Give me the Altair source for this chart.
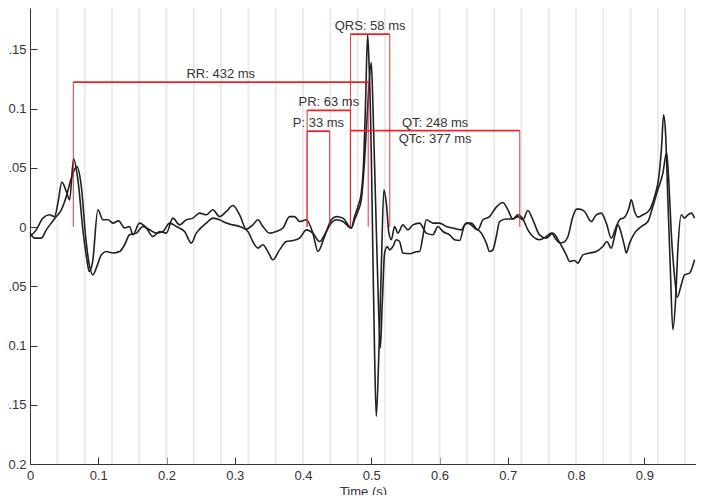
import altair as alt
import pandas as pd

# ---- trace 1 (taller beats) ----
t1_time = [0.000, 0.0092, 0.0189, 0.0287, 0.0360, 0.0409, 0.0467, 0.0532, 0.0580, 0.0639,
           0.0702, 0.0775, 0.0834, 0.0866, 0.0917, 0.0995, 0.1068, 0.1141, 0.1215, 0.1298,
           0.1386, 0.1459, 0.1507, 0.1605, 0.1704, 0.1800, 0.1899, 0.1997, 0.2093, 0.2192,
           0.2290, 0.2386, 0.2485, 0.2583, 0.2679, 0.2778, 0.2876, 0.2972, 0.3071, 0.3169,
           0.3265, 0.3339, 0.3412, 0.3510, 0.3608, 0.3705, 0.3803, 0.3876, 0.3950, 0.4048,
           0.4144, 0.4218, 0.4316, 0.4414, 0.4487, 0.4584, 0.4707, 0.4755, 0.4804, 0.4853,
           0.4887, 0.4916, 0.4946, 0.4965, 0.5000, 0.5023, 0.5048, 0.5073, 0.5111, 0.5146,
           0.5184, 0.5220, 0.5258, 0.5293, 0.5341, 0.5390, 0.5463, 0.5536, 0.5609, 0.5707,
           0.5806, 0.5902, 0.5976, 0.6049, 0.6147, 0.6220, 0.6294, 0.6367, 0.6415, 0.6513,
           0.6612, 0.6685, 0.6733, 0.6781, 0.6831, 0.6880, 0.6978, 0.7074, 0.7148, 0.7221,
           0.7294, 0.7367, 0.7465, 0.7564, 0.7637, 0.7710, 0.7759, 0.7808, 0.7881, 0.7953,
           0.8008, 0.8052, 0.8125, 0.8223, 0.8296, 0.8369, 0.8443, 0.8516, 0.8589, 0.8637,
           0.8711, 0.8774, 0.8809, 0.8857, 0.8906, 0.8979, 0.9077, 0.9150, 0.9213, 0.9253,
           0.9282, 0.9311, 0.9345, 0.9380, 0.9418, 0.9458, 0.9491, 0.9541, 0.9590, 0.9638,
           0.9688, 0.9736]
t1_amp = [-0.0079, -0.0023, 0.0076, 0.0104, 0.0089, 0.0205, 0.0380, 0.0300, 0.0230, 0.0576,
          0.0399, -0.0023, -0.0276, -0.0375, -0.0293, 0.0146, 0.0062, 0.0062, 0.0034, 0.0053,
          -0.0006, 0.0005, -0.0065, 0.0034, -0.0006, -0.0079, -0.0037, -0.0051, 0.0076, 0.0019,
          0.0062, 0.0076, 0.0118, 0.0104, 0.0146, 0.0089, 0.0132, 0.0182, 0.0104, -0.0017,
          0.0019, 0.0062, 0.0005, -0.0051, -0.0037, -0.0008, 0.0089, 0.0089, 0.0047, 0.0062,
          -0.0051, -0.0206, -0.0079, 0.0062, 0.0089, 0.0076, -0.0008, 0.0089, 0.0174, 0.0287,
          0.0540, 0.1049, 0.1623, 0.1412, 0.0624, -0.0219, -0.1061, -0.1598, -0.1063, -0.0360,
          0.0315, 0.0203, -0.0051, -0.0107, 0.0005, -0.0051, 0.0019, -0.0023, 0.0019, 0.0034,
          -0.0051, -0.0065, 0.0005, -0.0037, -0.0065, -0.0107, -0.0113, 0.0019, 0.0034, -0.0008,
          -0.0051, -0.0135, -0.0206, -0.0192, -0.0079, 0.0047, 0.0068, 0.0068, 0.0104, 0.0068,
          -0.0023, -0.0079, -0.0107, -0.0079, -0.0051, -0.0107, -0.0132, -0.0130, -0.0079, 0.0089,
          0.0152, 0.0152, 0.0132, 0.0047, 0.0104, 0.0118, 0.0034, -0.0093, 0.0005, 0.0062,
          0.0084, 0.0160, 0.0230, 0.0132, 0.0084, 0.0104, 0.0146, 0.0258, 0.0427, 0.0680,
          0.0948, 0.0793, 0.0230, -0.0332, -0.0867, -0.0613, -0.0192, 0.0104, 0.0076, 0.0104,
          0.0118, 0.0076]

# ---- trace 2 (smaller beats) ----
t2_time = [0.000, 0.0067, 0.0166, 0.0239, 0.0312, 0.0385, 0.0459, 0.0532, 0.0605, 0.0687,
           0.0752, 0.0815, 0.0873, 0.0921, 0.0980, 0.1045, 0.1118, 0.1214, 0.1313, 0.1386,
           0.1459, 0.1557, 0.1654, 0.1752, 0.1849, 0.1947, 0.2045, 0.2143, 0.2265, 0.2363,
           0.2436, 0.2485, 0.2583, 0.2679, 0.2778, 0.2876, 0.2972, 0.3071, 0.3192, 0.3265,
           0.3339, 0.3412, 0.3485, 0.3558, 0.3656, 0.3755, 0.3851, 0.3950, 0.4048, 0.4144,
           0.4243, 0.4341, 0.4414, 0.4487, 0.4584, 0.4707, 0.4755, 0.4804, 0.4853, 0.4902,
           0.4950, 0.5000, 0.5023, 0.5063, 0.5097, 0.5132, 0.5161, 0.5195, 0.5234, 0.5268,
           0.5316, 0.5366, 0.5414, 0.5463, 0.5561, 0.5659, 0.5707, 0.5756, 0.5806, 0.5902,
           0.6000, 0.6099, 0.6195, 0.6318, 0.6391, 0.6465, 0.6561, 0.6635, 0.6733, 0.6831,
           0.6928, 0.7001, 0.7074, 0.7148, 0.7221, 0.7294, 0.7367, 0.7465, 0.7564, 0.7660,
           0.7759, 0.7856, 0.7905, 0.7978, 0.8026, 0.8100, 0.8198, 0.8296, 0.8392, 0.8451,
           0.8516, 0.8564, 0.8613, 0.8662, 0.8711, 0.8735, 0.8784, 0.8857, 0.8955, 0.9052,
           0.9125, 0.9198, 0.9272, 0.9326, 0.9360, 0.9395, 0.9443, 0.9483, 0.9541, 0.9590,
           0.9663, 0.9736]
t2_amp = [-0.0046, -0.0093, -0.0093, -0.0023, 0.0034, 0.0089, 0.0146, 0.0258, 0.0413, 0.0511,
          0.0343, -0.0079, -0.0332, -0.0403, -0.0332, -0.0234, -0.0206, -0.0219, -0.0206, -0.0149,
          -0.0065, -0.0051, 0.0005, -0.0023, -0.0051, -0.0037, 0.0034, 0.0005, -0.0037, -0.0135,
          -0.0051, -0.0017, 0.0034, 0.0076, 0.0062, 0.0034, 0.0019, 0.0005, -0.0037, -0.0122,
          -0.0177, -0.0149, -0.0206, -0.0276, -0.0192, -0.0122, -0.0113, -0.0093, -0.0023, -0.0051,
          -0.0122, -0.0037, 0.0034, 0.0062, 0.0047, -0.0008, 0.0062, 0.0132, 0.0230, 0.0568,
          0.1046, 0.1389, 0.1046, 0.0203, -0.0501, -0.1021, -0.0641, -0.0219, -0.0164, -0.0192,
          -0.0164, -0.0107, -0.0122, -0.0219, -0.0225, -0.0208, -0.0206, -0.0079, 0.0062, 0.0034,
          0.0034, 0.0005, -0.0008, -0.0023, 0.0034, 0.0034, -0.0023, 0.0062, 0.0089, 0.0169,
          0.0208, 0.0146, 0.0068, 0.0089, 0.0062, 0.0140, 0.0062, -0.0065, -0.0093, -0.0051,
          -0.0130, -0.0234, -0.0290, -0.0282, -0.0304, -0.0234, -0.0219, -0.0206, -0.0164, -0.0122,
          -0.0177, -0.0079, 0.0019, -0.0051, -0.0164, -0.0219, -0.0135, -0.0051, 0.0005, 0.0047,
          0.0174, 0.0315, 0.0456, 0.0630, 0.0371, -0.0051, -0.0417, -0.0591, -0.0487, -0.0403,
          -0.0388, -0.0276]

# ---- background grid and ticks ----
grid_times = [0.04, 0.08, 0.12, 0.16, 0.20, 0.24, 0.28, 0.32, 0.36, 0.40, 0.44, 0.48,
              0.52, 0.56, 0.60, 0.64, 0.68, 0.72, 0.76, 0.80, 0.84, 0.88, 0.92, 0.96]
x_ticks = [0, 0.1, 0.2, 0.3, 0.4, 0.5, 0.6, 0.7, 0.8, 0.9]
y_ticks = [-0.2, -0.15, -0.1, -0.05, 0, 0.05, 0.1, 0.15]

# ---- interval annotations ----
iv_names = ["RR", "QRS", "PR", "P", "QT"]
iv_start = [0.0635, 0.4695, 0.406, 0.406, 0.4695]
iv_end = [0.4955, 0.527, 0.4695, 0.439, 0.7175]
iv_level = [0.1225, 0.163, 0.0985, 0.081, 0.0815]
iv_labels = ["RR: 432 ms", "QRS: 58 ms", "PR: 63 ms", "P: 33 ms", "QT: 248 ms"]
qtc_label = "QTc: 377 ms"

W, H = 666, 456
FONT = "Arial"
TXT = "#333333"
RED = "#e8242b"

xs = alt.Scale(domain=[0, 0.9757], nice=False, zero=False)
ys = alt.Scale(domain=[-0.2, 0.185], nice=False, zero=False)

traces = pd.concat([
    pd.DataFrame({"t": t1_time, "v": t1_amp, "lead": "a", "i": range(len(t1_time))}),
    pd.DataFrame({"t": t2_time, "v": t2_amp, "lead": "b", "i": range(len(t2_time))}),
])
grid_df = pd.DataFrame({"t": grid_times})
hdf = pd.DataFrame({"name": iv_names, "start": iv_start, "end": iv_end,
                    "level": iv_level, "label": iv_labels})
hdf["mid"] = (hdf["start"] + hdf["end"]) / 2
vrows = []
for s, e, l in zip(iv_start, iv_end, iv_level):
    vrows.append({"t": s, "top": l, "base": 0.0})
    vrows.append({"t": e, "top": l, "base": 0.0})
vdf = pd.DataFrame(vrows)
qtc_df = hdf[hdf["name"] == "QT"].assign(label=qtc_label)

grid = alt.Chart(grid_df).mark_rule(color="#ebebeb", strokeWidth=2).encode(
    x=alt.X("t:Q", scale=xs,
            axis=alt.Axis(orient="top", offset=-H, values=x_ticks, labels=False, domain=False,
                          tickSize=7, tickColor="#333333", tickWidth=1, grid=False, title=None))
)

lines = alt.Chart(traces).mark_line(color="#202020", strokeWidth=1.6,
                                     interpolate="monotone").encode(
    x=alt.X("t:Q", scale=xs,
            axis=alt.Axis(values=x_ticks, format="~g", tickSize=0, labelPadding=5,
                          domainColor="#333333", domainWidth=1, labelColor=TXT, labelFont=FONT,
                          labelFontSize=13, labelFlush=False, labelOverlap=False, grid=False,
                          title="Time (s)", titleFont=FONT, titleFontSize=13,
                          titleFontWeight="normal", titleColor=TXT, titlePadding=3)),
    y=alt.Y("v:Q", scale=ys,
            axis=alt.Axis(values=y_ticks, format="~g", tickSize=0, labelPadding=4,
                          domainColor="#333333", domainWidth=1, labelColor=TXT, labelFont=FONT,
                          labelFontSize=13, labelOverlap=False, grid=False, title=None)),
    detail="lead:N",
    order="i:Q",
)

vrules = alt.Chart(vdf).mark_rule(color=RED, strokeWidth=1.1, opacity=0.85).encode(
    x=alt.X("t:Q", scale=xs, axis=None),
    y=alt.Y("top:Q", scale=ys,
            axis=alt.Axis(orient="right", offset=-W, values=y_ticks, labels=False, domain=False,
                          tickSize=7, tickColor="#333333", tickWidth=1, grid=False, title=None)),
    y2="base:Q",
)

hrules = alt.Chart(hdf).mark_rule(color=RED, strokeWidth=1.8).encode(
    x=alt.X("start:Q", scale=xs, axis=None),
    x2="end:Q",
    y=alt.Y("level:Q", scale=ys, axis=None),
)

labels = alt.Chart(hdf).mark_text(font=FONT, fontSize=13, color=TXT, baseline="alphabetic",
                                  dy=-4).encode(
    x=alt.X("mid:Q", scale=xs, axis=None),
    y=alt.Y("level:Q", scale=ys, axis=None),
    text="label:N",
)

qtc = alt.Chart(qtc_df).mark_text(font=FONT, fontSize=13, color=TXT, baseline="top",
                                  dy=2).encode(
    x=alt.X("mid:Q", scale=xs, axis=None),
    y=alt.Y("level:Q", scale=ys, axis=None),
    text="label:N",
)

chart = alt.layer(grid, lines, vrules, hrules, labels, qtc).resolve_axis(
    x="independent", y="independent"
).properties(
    width=W, height=H,
    autosize=alt.AutoSizeParams(type="none"),
    padding={"left": 22, "top": 0, "right": 0, "bottom": 31},
    background="white",
).configure_view(stroke=None)

chart.save("out.html", embed_options={"renderer": "svg", "actions": False})
